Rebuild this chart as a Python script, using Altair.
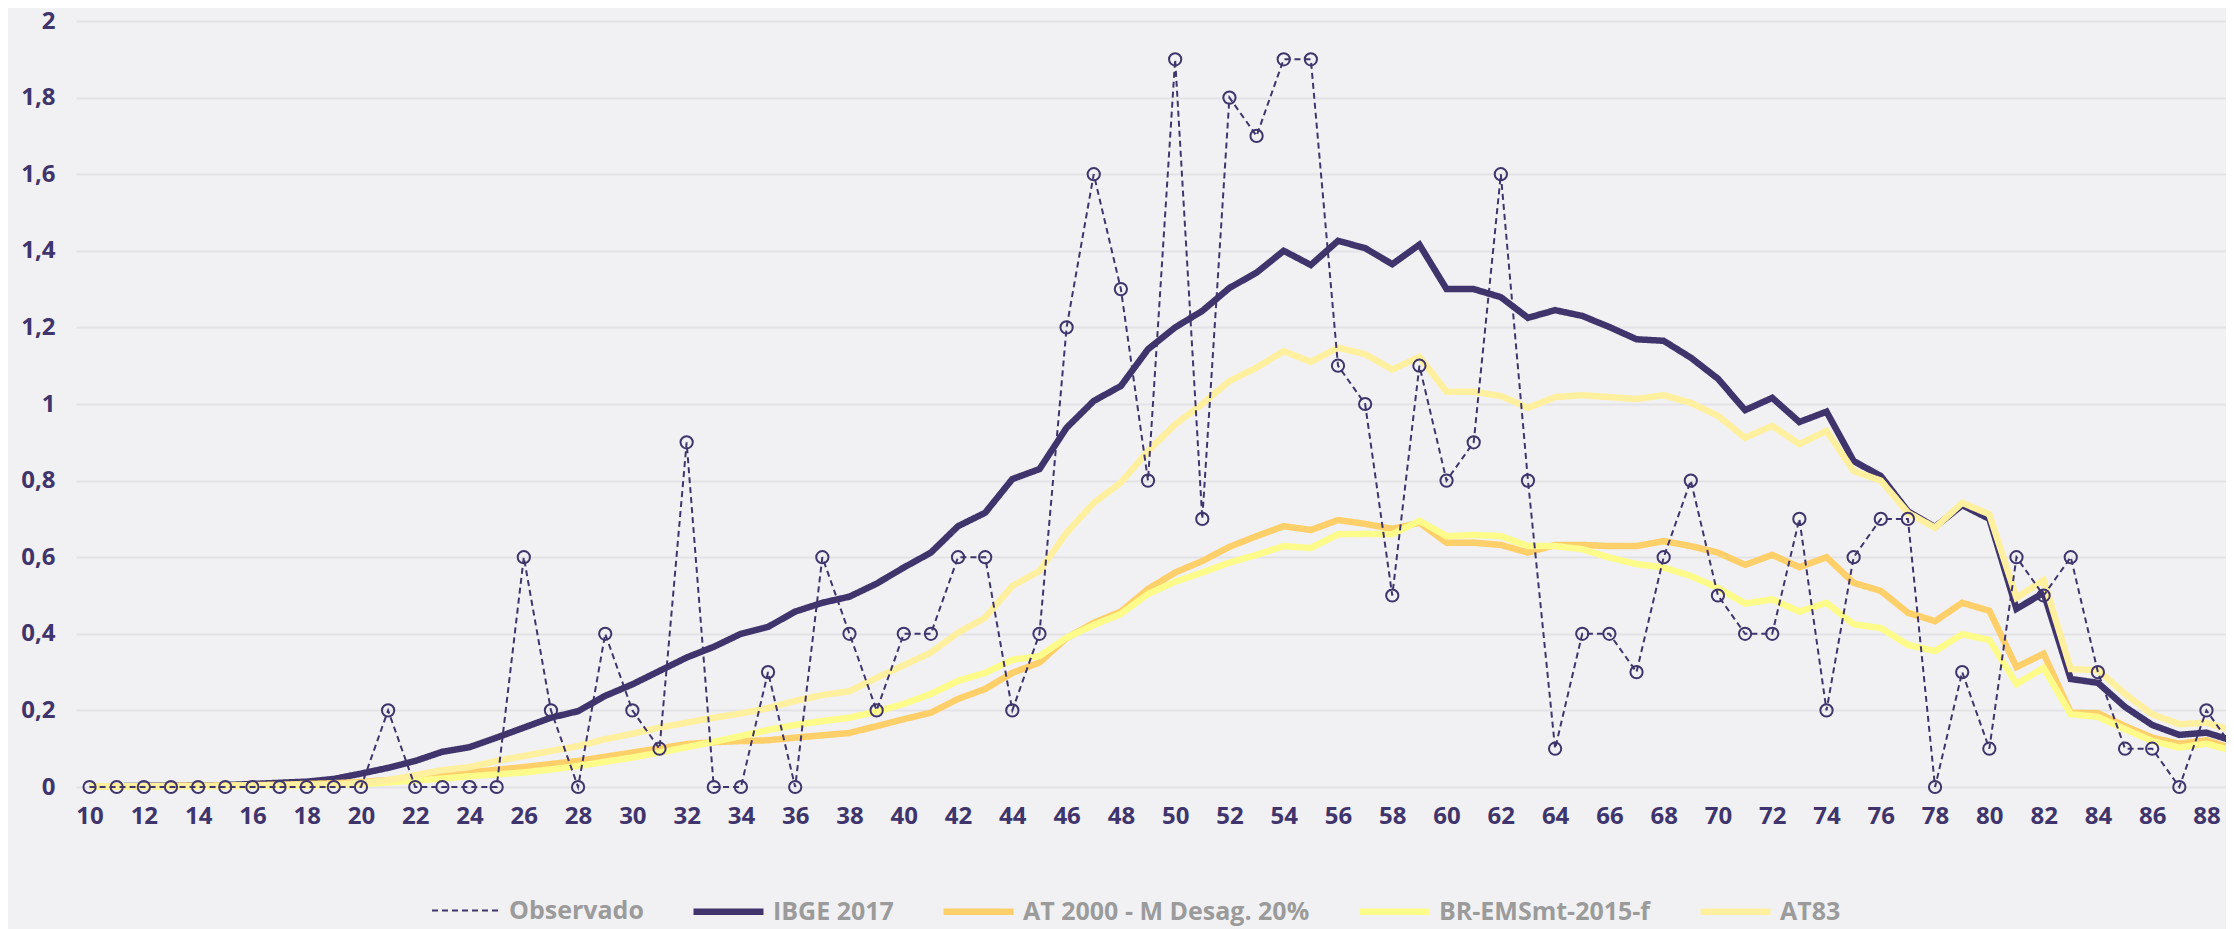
import altair as alt
import pandas as pd

idades = list(range(10, 90))

observado = [0, 0, 0, 0, 0, 0, 0, 0, 0, 0, 0,
             0.2, 0, 0, 0, 0, 0.6, 0.2, 0, 0.4, 0.2,
             0.1, 0.9, 0, 0, 0.3, 0, 0.6, 0.4, 0.2, 0.4,
             0.4, 0.6, 0.6, 0.2, 0.4, 1.2, 1.6, 1.3, 0.8, 1.9,
             0.7, 1.8, 1.7, 1.9, 1.9, 1.1, 1.0, 0.5, 1.1, 0.8,
             0.9, 1.6, 0.8, 0.1, 0.4, 0.4, 0.3, 0.6, 0.8, 0.5,
             0.4, 0.4, 0.7, 0.2, 0.6, 0.7, 0.7, 0, 0.3, 0.1,
             0.6, 0.5, 0.6, 0.3, 0.1, 0.1, 0, 0.2, 0.1]

ibge_2017 = [0.002, 0.002, 0.003, 0.003, 0.004, 0.005, 0.008, 0.011, 0.014, 0.021,
             0.035, 0.05, 0.068, 0.092, 0.104, 0.129, 0.155, 0.181, 0.198, 0.238,
             0.268, 0.303, 0.338, 0.366, 0.40, 0.418, 0.458, 0.481, 0.497, 0.531,
             0.573, 0.612, 0.681, 0.716, 0.804, 0.83, 0.938, 1.008, 1.047, 1.143,
             1.20, 1.243, 1.303, 1.343, 1.40, 1.363, 1.426, 1.407, 1.365, 1.416,
             1.30, 1.30, 1.279, 1.225, 1.245, 1.23, 1.201, 1.169, 1.165, 1.121,
             1.066, 0.984, 1.016, 0.953, 0.98, 0.851, 0.812, 0.72, 0.679, 0.736,
             0.70, 0.465, 0.507, 0.282, 0.272, 0.209, 0.162, 0.136, 0.142, 0.12]

at2000 = [0.002, 0.002, 0.002, 0.003, 0.003, 0.004, 0.005, 0.006, 0.008, 0.01,
          0.013, 0.018, 0.024, 0.031, 0.038, 0.045, 0.052, 0.06, 0.068, 0.079,
          0.09, 0.101, 0.112, 0.117, 0.12, 0.122, 0.129, 0.135, 0.141, 0.159,
          0.177, 0.194, 0.23, 0.256, 0.298, 0.325, 0.389, 0.429, 0.458, 0.517,
          0.56, 0.59, 0.627, 0.655, 0.681, 0.671, 0.697, 0.687, 0.674, 0.69,
          0.638, 0.638, 0.632, 0.612, 0.632, 0.632, 0.629, 0.629, 0.642, 0.629,
          0.612, 0.58, 0.606, 0.574, 0.60, 0.533, 0.512, 0.455, 0.433, 0.481,
          0.46, 0.313, 0.348, 0.194, 0.193, 0.159, 0.129, 0.113, 0.122, 0.099]

br_emsmt = [0.001, 0.001, 0.001, 0.002, 0.002, 0.002, 0.003, 0.003, 0.004, 0.005,
            0.008, 0.012, 0.017, 0.022, 0.028, 0.033, 0.038, 0.046, 0.055, 0.066,
            0.077, 0.09, 0.104, 0.118, 0.133, 0.149, 0.162, 0.172, 0.181, 0.197,
            0.217, 0.243, 0.277, 0.298, 0.332, 0.342, 0.39, 0.423, 0.452, 0.504,
            0.536, 0.56, 0.586, 0.606, 0.629, 0.624, 0.66, 0.661, 0.66, 0.695,
            0.655, 0.658, 0.655, 0.629, 0.629, 0.621, 0.599, 0.582, 0.573, 0.551,
            0.52, 0.479, 0.49, 0.458, 0.481, 0.425, 0.415, 0.371, 0.355, 0.399,
            0.384, 0.269, 0.311, 0.19, 0.183, 0.151, 0.12, 0.103, 0.113, 0.094]

at83 = [0.001, 0.001, 0.002, 0.002, 0.003, 0.003, 0.004, 0.005, 0.006, 0.007,
        0.01, 0.018, 0.031, 0.044, 0.052, 0.068, 0.081, 0.094, 0.107, 0.125,
        0.139, 0.155, 0.168, 0.181, 0.192, 0.206, 0.225, 0.24, 0.25, 0.285,
        0.318, 0.351, 0.403, 0.442, 0.525, 0.564, 0.664, 0.742, 0.795, 0.877,
        0.947, 1.0, 1.06, 1.095, 1.138, 1.11, 1.147, 1.13, 1.09, 1.123,
        1.032, 1.032, 1.021, 0.99, 1.018, 1.023, 1.018, 1.013, 1.023, 1.003,
        0.969, 0.912, 0.943, 0.895, 0.93, 0.825, 0.80, 0.716, 0.677, 0.742,
        0.712, 0.494, 0.54, 0.308, 0.305, 0.243, 0.19, 0.164, 0.168, 0.146]

series = ["Observado", "IBGE 2017", "AT 2000 - M Desag. 20%", "BR-EMSmt-2015-f", "AT83"]
valores = [observado, ibge_2017, at2000, br_emsmt, at83]
cores = ["#3f356c", "#3f356c", "#ffcf6a", "#fdfb8a", "#fff0a0"]
tracos = [[6, 4], [1, 0], [1, 0], [1, 0], [1, 0]]
larguras = [2, 6.5, 6.5, 6.5, 6.5]

y_ticks = [0, 0.2, 0.4, 0.6, 0.8, 1.0, 1.2, 1.4, 1.6, 1.8, 2.0]
x_ticks = list(range(10, 89, 2))

rows = []
for nome, vals in zip(series, valores):
    for a, v in zip(idades, vals):
        rows.append({"idade": a, "valor": v, "serie": nome})
df = pd.DataFrame(rows)

PURPLE = "#3f356c"
FONT = "Open Sans"

x_enc = alt.X(
    "idade:Q",
    scale=alt.Scale(domain=[9.5, 88.72], nice=False, zero=False),
    axis=alt.Axis(values=x_ticks, grid=False, domain=False, ticks=False, tickSize=0,
                  labelPadding=17, title=None, labelFontSize=24, labelFont=FONT,
                  labelFontWeight="bold", labelColor=PURPLE, labelFlush=False,
                  labelOverlap=False),
)
y_enc = alt.Y(
    "valor:Q",
    scale=alt.Scale(domain=[0, 2], nice=False),
    axis=alt.Axis(values=y_ticks, format=".1~f", labelExpr="replace(datum.label, '.', ',')",
                  grid=True, gridColor="#e3e3e7", gridWidth=2, domain=False, ticks=False,
                  tickSize=0, labelPadding=21, title=None, labelFontSize=24, labelFont=FONT,
                  labelFontWeight="bold", labelColor=PURPLE),
)
color_enc = alt.Color("serie:N", scale=alt.Scale(domain=series, range=cores), title=None)
dash_enc = alt.StrokeDash("serie:N", scale=alt.Scale(domain=series, range=tracos), title=None)
width_enc = alt.StrokeWidth("serie:N", scale=alt.Scale(type="ordinal", domain=series, range=larguras), title=None)

base = alt.Chart(df)
ordem = ["IBGE 2017", "AT 2000 - M Desag. 20%", "BR-EMSmt-2015-f", "AT83", "Observado"]
layers = []
for nome in ordem:
    layers.append(
        base.transform_filter(alt.datum.serie == nome)
        .mark_line(clip=False)
        .encode(x=x_enc, y=y_enc, color=color_enc, strokeDash=dash_enc, strokeWidth=width_enc)
    )
pontos = (
    base.transform_filter(alt.datum.serie == "Observado")
    .mark_point(shape="circle", filled=False, size=150, strokeWidth=2, color=PURPLE, opacity=1, clip=False)
    .encode(x=x_enc, y=y_enc)
)
layers.append(pontos)

chart = (
    alt.layer(*layers)
    .properties(
        width=2150,
        height=766,
        padding={"left": 68, "top": 13, "right": 0, "bottom": 142},
        autosize=alt.AutoSizeParams(type="none"),
        background="#f1f1f3",
    )
    .configure_view(stroke=None)
    .configure_legend(
        orient="none",
        legendX=355,
        legendY=852,
        direction="horizontal",
        symbolType="stroke",
        symbolSize=4900,
        labelFontSize=25,
        labelFont=FONT,
        labelFontWeight="bold",
        labelColor="#9b9b9b",
        columnPadding=36,
        labelOffset=6,
        padding=0,
        labelLimit=0,
    )
)

chart.save("out.html", embed_options={"renderer": "svg", "actions": False})
